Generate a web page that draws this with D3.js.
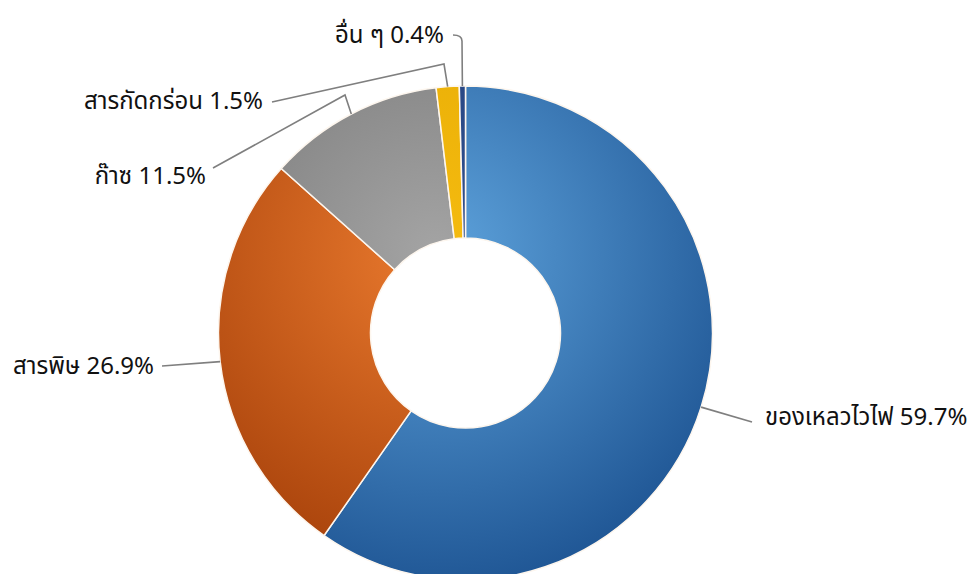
<!DOCTYPE html>
<html><head><meta charset="utf-8">
<script src="https://cdn.jsdelivr.net/npm/d3@7"></script>
<style>
html,body{margin:0;padding:0;background:#fff;}
svg{display:block;}
text{font-family:Tahoma,"Noto Sans Thai","Noto Sans","DejaVu Sans",sans-serif;}
</style></head>
<body>
<svg id="chart" width="978" height="574"></svg>
<script>
// Data
const categories = ["ของเหลวไวไฟ", "สารพิษ", "ก๊าซ", "สารกัดกร่อน", "อื่น ๆ"];
const values = [59.7, 26.9, 11.5, 1.5, 0.4];
const valueLabels = ["59.7%", "26.9%", "11.5%", "1.5%", "0.4%"];

// Styles / layout (not data)
const gradColors = [
  ["#5ea3dc", "#1b5190"],
  ["#ea7a2e", "#a13c07"],
  ["#a4a4a4", "#707070"],
  ["#f5bb10", "#e3a800"],
  ["#2f4f8f", "#24427c"]
];
// label layout: elbow point (optional), line end, text anchor point
const labelLayout = [
  {elbow:null, end:[752,422], text:[765,418], anchor:"start"},
  {elbow:null, end:[162,366], text:[154,367], anchor:"end"},
  {elbow:[345,95], end:[213,168], text:[206,177], anchor:"end"},
  {elbow:[444,64], end:[272,102], text:[263,102], anchor:"end"},
  {elbow:[462,41], end:[453,35], text:[444,36], anchor:"end", curve:true}
];

const svg = d3.select("#chart");
const cx = 465.5, cy = 333, R = 247, r0 = 95;
const g = svg.append("g").attr("transform", `translate(${cx},${cy})`);
const defs = svg.append("defs");

gradColors.forEach((c, i) => {
  const gr = defs.append("radialGradient")
    .attr("id", "grad" + i)
    .attr("gradientUnits", "userSpaceOnUse")
    .attr("cx", -30).attr("cy", -80).attr("r", 360);
  gr.append("stop").attr("offset", "0%").attr("stop-color", c[0]);
  gr.append("stop").attr("offset", "100%").attr("stop-color", c[1]);
});

const pie = d3.pie().sort(null).value(d => d);
const arcs = pie(values);
const arc = d3.arc().innerRadius(r0).outerRadius(R);

g.selectAll("path.slice").data(arcs).enter().append("path")
  .attr("class", "slice")
  .attr("d", arc)
  .attr("fill", (d, i) => `url(#grad${i})`)
  .attr("stroke", "#fdf6ee")
  .attr("stroke-width", 1.5);

// leader lines
arcs.forEach((a, i) => {
  const mid = (a.startAngle + a.endAngle) / 2;
  const p0 = [cx + R * Math.sin(mid), cy - R * Math.cos(mid)];
  const L = labelLayout[i];
  let path = d3.path();
  path.moveTo(p0[0], p0[1]);
  if (L.curve) {
    path.lineTo(L.elbow[0], L.elbow[1]);
    path.quadraticCurveTo(L.elbow[0], L.end[1], L.end[0], L.end[1]);
  } else {
    if (L.elbow) path.lineTo(L.elbow[0], L.elbow[1]);
    path.lineTo(L.end[0], L.end[1]);
  }
  svg.append("path").attr("d", path.toString())
    .attr("fill", "none").attr("stroke", "#7f7f7f").attr("stroke-width", 1.6);
  svg.append("text")
    .attr("x", L.text[0]).attr("y", L.text[1])
    .attr("text-anchor", L.anchor)
    .attr("dominant-baseline", "central")
    .attr("font-size", 24)
    .attr("fill", "#111")
    .text(categories[i] + " " + valueLabels[i]);
});
</script>
</body></html>
